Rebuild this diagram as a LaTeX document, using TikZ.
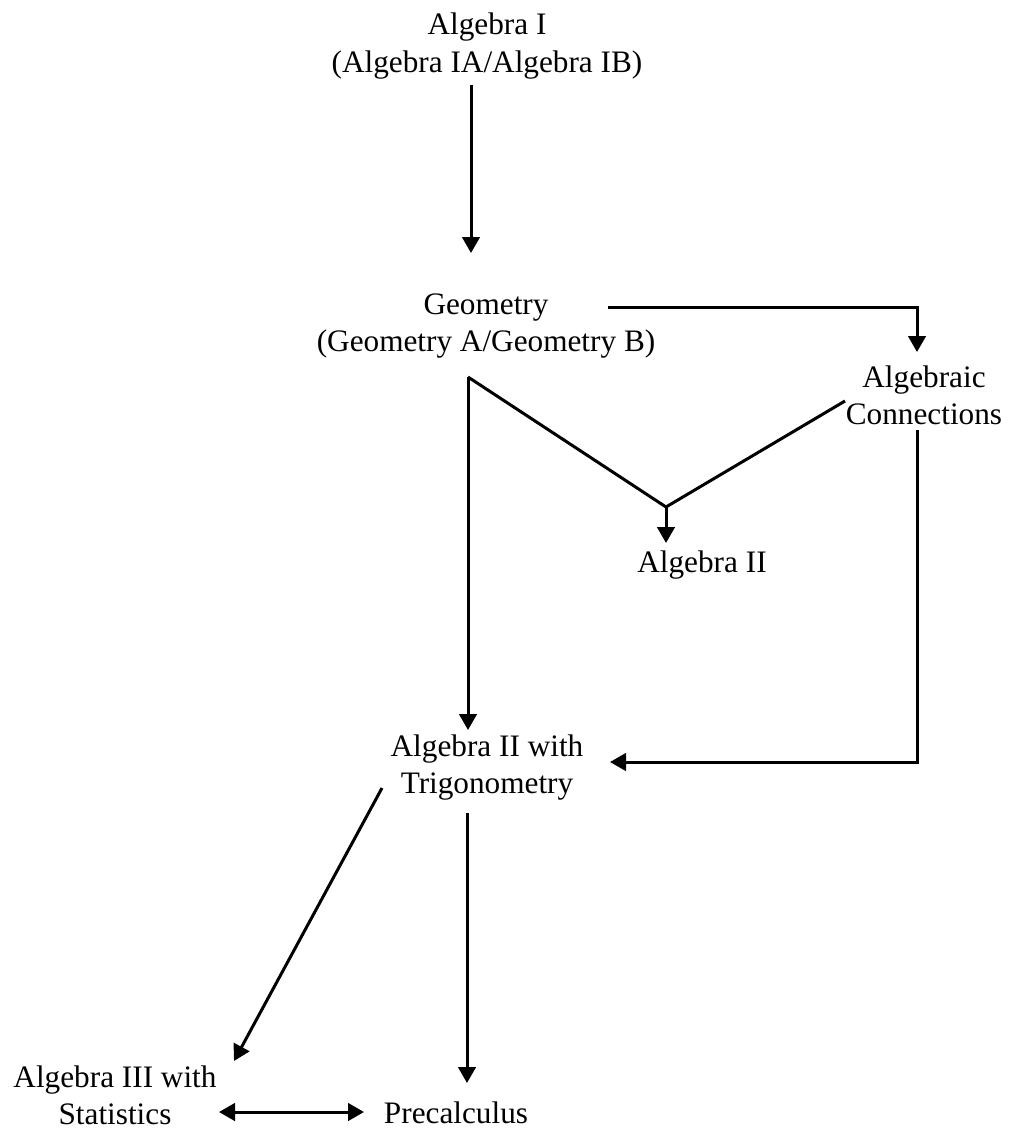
\documentclass[tikz,border=0pt]{standalone}
\usepackage{fontspec}
\setmainfont{Liberation Serif}
\usetikzlibrary{arrows.meta}
\newcommand\twol[2]{\begin{tabular}[t]{@{}c@{}}#1\\#2\end{tabular}}
\begin{document}
\begin{tikzpicture}[x=0.4pt,y=-0.4pt,
  lbl/.style={anchor=base,inner sep=0pt,font=\fontsize{12.5}{14.8}\selectfont},
  conn/.style={line width=1.2pt,line join=miter},
  arr/.style={conn,-{Triangle[length=6.4pt,width=7pt]}},
  darr/.style={conn,{Triangle[length=6.4pt,width=7pt]}-{Triangle[length=6.4pt,width=7pt]}}]
\useasboundingbox (0,0) rectangle (1008,1132);
% nodes
\node[lbl] (alg1) at (487,35) {\twol{Algebra I}{(Algebra IA/Algebra IB)}};
\node[lbl] (geo) at (486,314) {\twol{Geometry}{(Geometry A/Geometry B)}};
\node[lbl] (algc) at (924,387) {\twol{Algebraic}{Connections}};
\node[lbl] (alg2) at (702,572) {Algebra II};
\node[lbl] (trig) at (487,756) {\twol{Algebra II with}{Trigonometry}};
\node[lbl] (alg3) at (115,1087) {\twol{Algebra III with}{Statistics}};
\node[lbl] (pre) at (456,1123) {Precalculus};
% connector end points
\coordinate (a1s) at (471,85);
\coordinate (a1e) at (471,253);
\coordinate (gs) at (608,307);
\coordinate (gc) at (917,307);
\coordinate (ge) at (917,352);
\coordinate (vapex) at (468,377);
\coordinate (vtip) at (468,730);
\coordinate (vj) at (666,507);
\coordinate (acd) at (845,401);
\coordinate (vje) at (666,543);
\coordinate (rs) at (917,430);
\coordinate (rc) at (917,762);
\coordinate (re) at (610,762);
\coordinate (ds) at (382,788);
\coordinate (de) at (234,1061);
\coordinate (ps) at (467,813);
\coordinate (pe) at (467,1083);
\coordinate (hs) at (219,1112);
\coordinate (he) at (364,1112);
% connectors
\draw[arr] (a1s) -- (a1e);
\draw[arr] (gs) -- (gc) -- (ge);
\draw[arr] (vapex) -- (vtip);
\draw[conn] (vapex) -- (vj) -- (acd);
\draw[arr] (vj) -- (vje);
\draw[arr] (rs) -- (rc) -- (re);
\draw[arr] (ds) -- (de);
\draw[arr] (ps) -- (pe);
\draw[darr] (hs) -- (he);
\end{tikzpicture}
\end{document}
